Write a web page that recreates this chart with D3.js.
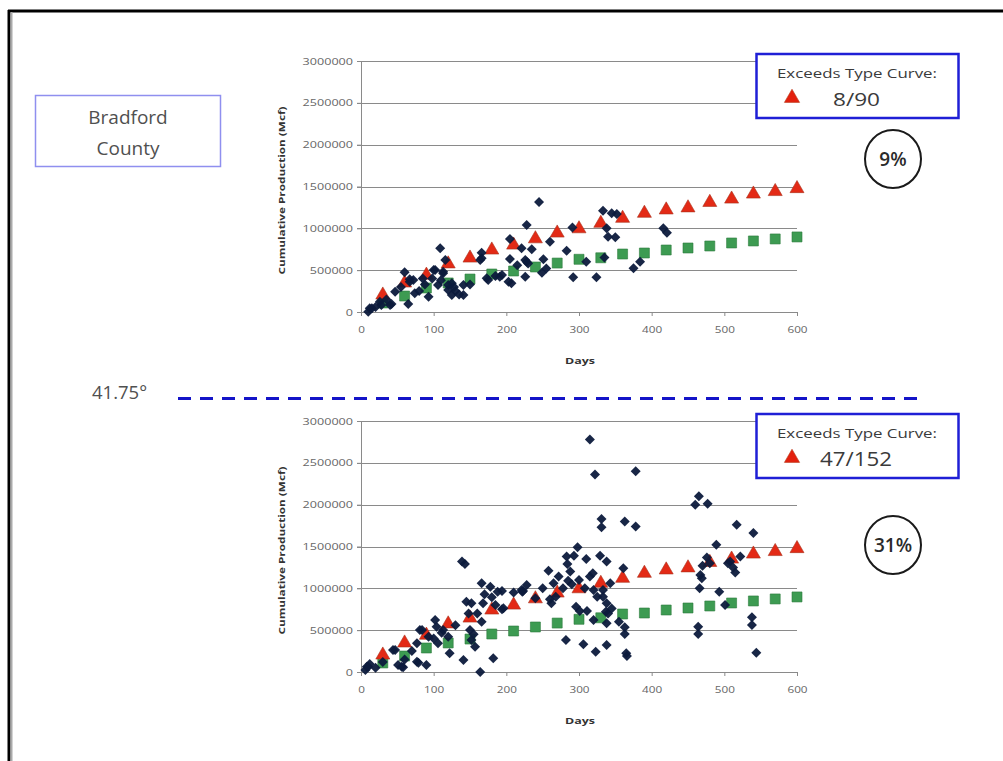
<!DOCTYPE html>
<html><head><meta charset="utf-8">
<script src="https://cdn.jsdelivr.net/npm/d3@7"></script>
<style>body{margin:0;background:#fff}svg{display:block}text{font-family:"Open Sans","DejaVu Sans",sans-serif}</style>
</head><body>
<svg id="c" width="1003" height="761"></svg>
<script>
// ---- data ----
const yTicks = [0, 500000, 1000000, 1500000, 2000000, 2500000, 3000000];
const xTicks = [0, 100, 200, 300, 400, 500, 600];
const typeDays = [30,60,90,120,150,180,210,240,270,300,330,360,390,420,450,480,510,540,570,600];
const typeHigh = [203000,347000,440000,575000,645000,741000,800000,875000,944000,995000,1060000,1120000,1180000,1220000,1245000,1310000,1350000,1410000,1440000,1475000];
const typeLow  = [108000,191000,287000,347000,394000,454000,490000,538000,585000,630000,648000,693000,705000,741000,765000,789000,825000,849000,873000,897000];

const topDays = [10,12,15,26,42,47,60,67,65,74,93,102,109,106,113,116,125,120,141,141,166,166,173,194,205,205,207,221,226,226,228,245,235,228,251,249,260,283,291,292,324,333,338,352,350,375,384,416,421,
  28,40,67,72,100,113,125,164,175,191,203,120,55,80,88,98,110,130,150,185,215,255,310,335,345,230,135,35,20,85,128,340];
const topVals = [4000,44000,44000,123000,96000,243000,474000,391000,96000,223000,183000,502000,761000,323000,462000,621000,203000,323000,323000,203000,709000,642000,403000,442000,872000,633000,343000,761000,422000,621000,1040000,1315000,749000,601000,630000,470000,840000,733000,1010000,415000,415000,1210000,1000000,1170000,893000,522000,601000,1000000,948000,
  84000,84000,362000,382000,502000,482000,343000,621000,382000,422000,362000,263000,300000,250000,330000,400000,380000,250000,330000,430000,560000,520000,600000,650000,1180000,580000,210000,150000,60000,400000,300000,900000];

const botDays = [6,8,12,10,44,47,51,56,58,77,77,79,81,84,90,93,102,104,106,111,113,120,122,139,143,141,145,152,150,152,157,164,166,166,168,178,180,182,194,194,196,221,222,228,223,240,258,265,262,260,272,282,283,284,285,290,293,298,296,301,311,315,322,378,331,331,363,378,315,319,320,320,329,338,333,333,338,337,338,343,306,323,338,361,363,363,365,366,460,465,477,489,476,467,469,466,464,464,493,501,517,508,515,522,540,538,538,544,
  130,160,170,188,250,268,278,288,300,308,325,340,345,470,505,512,480,100,70,60,30,20,148,155,185,210,310,355];
const botVals = [24000,64000,96000,64000,263000,263000,84000,64000,56000,123000,343000,112000,502000,502000,84000,422000,622000,542000,343000,470000,502000,422000,223000,1320000,1290000,143000,840000,821000,502000,382000,302000,0,1060000,601000,821000,1020000,893000,163000,968000,749000,761000,980000,960000,1040000,968000,881000,1210000,1060000,821000,869000,1140000,382000,1380000,1290000,1090000,1050000,1390000,1490000,781000,729000,729000,2780000,2360000,2400000,1830000,1730000,1800000,1740000,1140000,1180000,980000,622000,1390000,1320000,980000,900000,821000,721000,582000,1060000,331000,243000,323000,1240000,534000,454000,223000,190000,2000000,2100000,2010000,1520000,1370000,1160000,1120000,1000000,542000,454000,960000,801000,1760000,1320000,1190000,1380000,1660000,654000,562000,231000,
  560000,700000,930000,960000,1000000,900000,1000000,1200000,1100000,1000000,900000,700000,760000,1270000,1300000,1250000,1300000,400000,250000,150000,120000,50000,700000,450000,800000,950000,1350000,600000];

const panels = [
  {days: topDays, vals: topVals, y0: 312, y1: 61, count: "8/90", pct: "9%"},
  {days: botDays, vals: botVals, y0: 672, y1: 421, count: "47/152", pct: "31%"}
];

// ---- drawing ----
const svg = d3.select("#c");
const x = d3.scaleLinear().domain([0, 600]).range([361, 797]);

// frame
svg.append("line").attr("x1",8).attr("y1",11).attr("x2",1003).attr("y2",11).attr("stroke","#000").attr("stroke-width",3);
svg.append("line").attr("x1",9).attr("y1",10).attr("x2",9).attr("y2",761).attr("stroke","#000").attr("stroke-width",3);
svg.append("line").attr("x1",11.5).attr("y1",12).attr("x2",11.5).attr("y2",761).attr("stroke","#aaa").attr("stroke-width",2);

// county box
svg.append("rect").attr("x",35.5).attr("y",95.5).attr("width",185).attr("height",71).attr("fill","#fff").attr("stroke","#8f8fef").attr("stroke-width",1.5);
svg.append("text").attr("x",128).attr("y",124).attr("text-anchor","middle").attr("font-size",19).attr("fill","#505050").text("Bradford");
svg.append("text").attr("x",128).attr("y",155).attr("text-anchor","middle").attr("font-size",19).attr("fill","#505050").text("County");

// latitude line
svg.append("text").attr("x",92).attr("y",399).attr("font-size",18.5).attr("fill","#505050").text("41.75°");
svg.append("line").attr("x1",178).attr("y1",398.5).attr("x2",920).attr("y2",398.5).attr("stroke","#1414c8").attr("stroke-width",3).attr("stroke-dasharray","13,9");

const diamond = d3.symbol().type(d3.symbolSquare).size(50);
const tri = d3.symbol().type(d3.symbolTriangle).size(85);
const sq = d3.symbol().type(d3.symbolSquare).size(100);

panels.forEach(p => {
  const y = d3.scaleLinear().domain([0, 3000000]).range([p.y0, p.y1]);
  const g = svg.append("g");
  // grid
  g.selectAll(".grid").data(yTicks.slice(1)).join("line")
    .attr("x1", x(0)-4).attr("x2", x(600)).attr("y1", d=>Math.round(y(d))+0.5).attr("y2", d=>Math.round(y(d))+0.5)
    .attr("stroke","#8a8a8a").attr("stroke-width",1);
  // y axis
  const ya = d3.axisLeft(y).tickValues(yTicks).tickSize(4).tickFormat(d3.format("d"));
  const yg = g.append("g").attr("transform",`translate(${x(0)},0)`).call(ya);
  yg.select(".domain").attr("stroke","#8a8a8a");
  yg.selectAll(".tick line").attr("stroke","#8a8a8a");
  yg.selectAll(".tick text").attr("font-size",9.5).attr("fill","#666").attr("x",-8).attr("font-family","'Open Sans',sans-serif")
    .attr("textLength", d => String(d).length*7.2).attr("lengthAdjust","spacingAndGlyphs");
  // x axis
  const xa = d3.axisBottom(x).tickValues(xTicks).tickSize(4);
  const xg = g.append("g").attr("transform",`translate(0,${p.y0})`).call(xa);
  xg.select(".domain").attr("stroke","#8a8a8a");
  xg.selectAll(".tick line").attr("stroke","#8a8a8a");
  xg.selectAll(".tick text").attr("font-size",9.5).attr("fill","#666").attr("y",14)
    .attr("textLength", d => String(d).length*6.7).attr("lengthAdjust","spacingAndGlyphs");
  // axis titles
  g.append("text").attr("transform",`translate(${285},${(p.y0+p.y1)/2+4}) rotate(-90)`).attr("text-anchor","middle")
    .attr("font-size",9).attr("font-weight","bold").attr("fill","#333").attr("textLength",168).attr("lengthAdjust","spacingAndGlyphs")
    .text("Cumulative Production (Mcf)");
  g.append("text").attr("x",580).attr("y",p.y0+52).attr("text-anchor","middle").attr("font-size",9.5).attr("font-weight","bold").attr("fill","#333")
    .attr("textLength",30).attr("lengthAdjust","spacingAndGlyphs").text("Days");
  // type curves
  g.selectAll(".lo").data(typeDays).join("path")
    .attr("d", sq).attr("transform",(d,i)=>`translate(${x(d)},${y(typeLow[i])})`)
    .attr("fill","#3d9b52").attr("stroke","#2b7a3c").attr("stroke-width",0.6);
  g.selectAll(".hi").data(typeDays).join("path")
    .attr("d", tri).attr("transform",(d,i)=>`translate(${x(d)},${y(typeHigh[i])})`)
    .attr("fill","#e32a16").attr("stroke","#a8321c").attr("stroke-width",0.6);
  // wells
  g.selectAll(".w").data(p.days).join("path")
    .attr("d", diamond).attr("transform",(d,i)=>`translate(${x(d)},${y(p.vals[i])}) rotate(45)`)
    .attr("fill","#0c1a3c").attr("opacity",0.95);
  // legend box
  const ly = p.y1 - 7;
  g.append("rect").attr("x",756.5).attr("y",ly).attr("width",202).attr("height",64).attr("fill","#fff").attr("stroke","#1f1fd6").attr("stroke-width",2.5);
  g.append("text").attr("x",857).attr("y",ly+24).attr("text-anchor","middle").attr("font-size",13).attr("fill","#3a3a3a")
    .attr("textLength",160).attr("lengthAdjust","spacingAndGlyphs").text("Exceeds Type Curve:");
  g.append("path").attr("d", d3.symbol().type(d3.symbolTriangle).size(100)).attr("transform",`translate(792,${ly+44})`)
    .attr("fill","#e3200e").attr("stroke","#b53a1a").attr("stroke-width",0.6);
  const cntX = p.count.length > 4 ? 820 : 833;
  g.append("text").attr("x",cntX).attr("y",ly+52).attr("font-size",p.count.length>4?20:19).attr("fill","#3a3a3a")
    .attr("textLength",p.count.length>4?72:47).attr("lengthAdjust","spacingAndGlyphs").text(p.count);
  // percent circle
  const cy = p.y1 + 98 + (p.count.length>4 ? 26 : 0);
  g.append("ellipse").attr("cx",893).attr("cy",cy).attr("rx",28).attr("ry",29).attr("fill","#fff").attr("stroke","#1a1a1a").attr("stroke-width",2);
  g.append("text").attr("x",893).attr("y",cy+7).attr("text-anchor","middle").attr("font-size",19).attr("font-weight",600).attr("fill","#2a2a2a").text(p.pct);
});
</script>
</body></html>
